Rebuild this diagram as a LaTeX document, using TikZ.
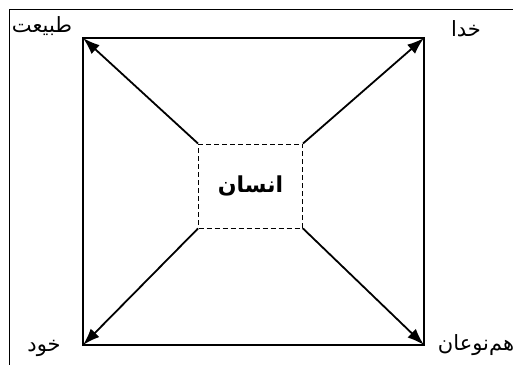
\documentclass[tikz,border=0pt]{standalone}
\usepackage{fontspec}
\newfontfamily\farsifont[Script=Arabic]{DejaVu Sans}
\TeXXeTstate=1
\usetikzlibrary{arrows.meta,positioning}
\tikzset{
  cornerlabel/.style={font=\farsifont\fontsize{21}{24}\selectfont,inner sep=0pt},
  centerbox/.style={draw,dash pattern=on 5pt off 3pt,line width=0.9pt,inner sep=0pt,
    minimum width=104pt,minimum height=84pt,font=\farsifont\bfseries\fontsize{22}{26}\selectfont},
  link/.style={line width=1.8pt,-{Latex[length=17pt,width=12pt]}},
}
\begin{document}
\begin{tikzpicture}[x=1pt,y=-1pt]
\useasboundingbox (0,0) rectangle (513,364);
% frame of the page
\draw[line width=0.9pt] (9,380) -- (9,9) -- (530,9);

% outer square
\coordinate (tl) at (83,38);
\coordinate (tr) at (424,38);
\coordinate (br) at (424,345);
\coordinate (bl) at (83,345);
\draw[line width=1.8pt] (tl) -- (tr) -- (br) -- (bl) -- cycle;

% centre
\node[centerbox] (insan) at (250.5,186) {\beginR انسان\endR};

% arrows to the corners
\draw[link] (insan.north west) -- (tl);
\draw[link] (insan.north east) -- (tr);
\draw[link] (insan.south east) -- (br);
\draw[link] (insan.south west) -- (bl);

% corner labels
\node[cornerlabel] (tabiat) at (42,26) {\beginR طبیعت\endR};
\node[cornerlabel] (khoda) at (466,29) {\beginR خدا\endR};
\node[cornerlabel] (khod) at (44,348) {\beginR خود\endR};
\node[cornerlabel] (hamnoan) at (476,345) {\beginR هم^^^^200cنوعان\endR};
\end{tikzpicture}
\end{document}
